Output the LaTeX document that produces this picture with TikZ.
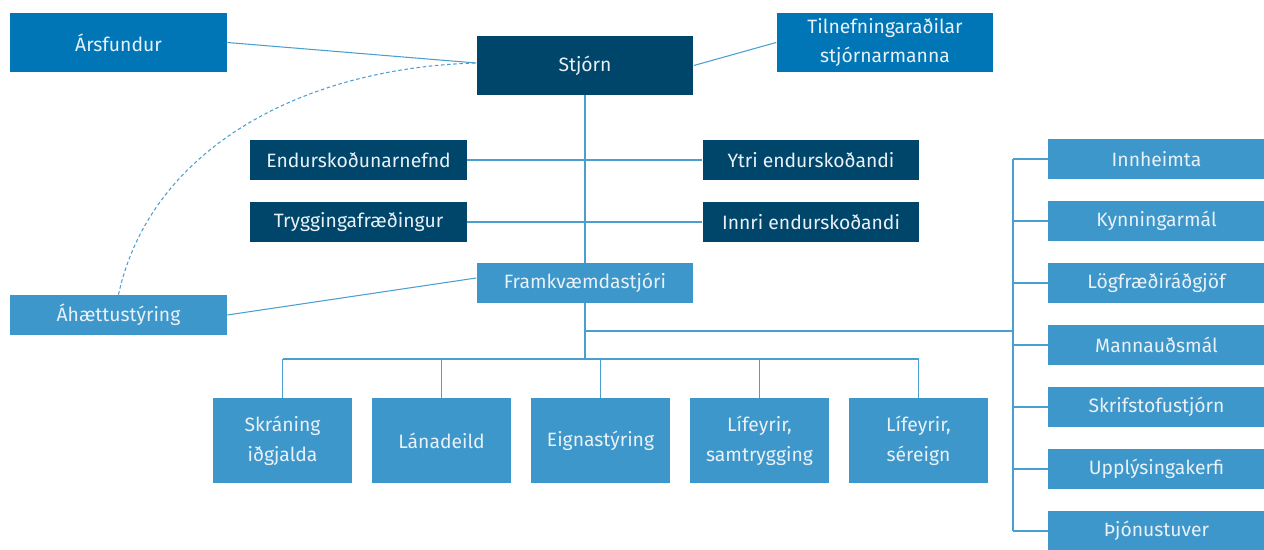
\documentclass[tikz,border=0pt]{standalone}
\usepackage{fontspec}
\setmainfont{Fira Sans}
\usetikzlibrary{positioning}

\definecolor{toppblue}{HTML}{0076B6}
\definecolor{navyblue}{HTML}{00456A}
\definecolor{lightblue}{HTML}{3D97CA}
\definecolor{linkblue}{HTML}{4A9FD0}
\definecolor{boxtext}{HTML}{E8F1F8}

\tikzset{
  unit/.style={rectangle, inner sep=2pt, text=boxtext, font=\fontsize{11}{17}\selectfont, align=center},
  wide/.style={unit, minimum width=4.34cm, minimum height=1.18cm},
  slim/.style={unit, minimum width=4.34cm, minimum height=0.8cm},
  dept/.style={unit, minimum width=2.78cm, minimum height=1.7cm},
  link/.style={draw=linkblue, line width=0.6pt}
}

\begin{document}
\begin{tikzpicture}[x=0.02cm, y=-0.02cm]
    \useasboundingbox (0,0) rectangle (1264,550);
    % top level
    \node[wide, fill=toppblue] (arsfundur) at (118.5, 42.5) {Ársfundur};
    \node[wide, fill=navyblue] (stjorn) at (585, 65.5) {Stjórn};
    \node[wide, fill=toppblue] (tilnefn) at (885, 42.5) {Tilnefningaraðilar\\stjórnarmanna};
    % board side units
    \node[slim, fill=navyblue] (endnefnd) at (358.5, 160) {Endurskoðunarnefnd};
    \node[slim, fill=navyblue] (ytri) at (811, 160) {Ytri endurskoðandi};
    \node[slim, fill=navyblue] (trygg) at (358.5, 222) {Tryggingafræðingur};
    \node[slim, fill=navyblue] (innri) at (811, 222) {Innri endurskoðandi};
    % management
    \node[slim, fill=lightblue] (framkv) at (585, 283) {Framkvæmdastjóri};
    \node[slim, fill=lightblue] (ahaetta) at (118.5, 315) {Áhættustýring};
    % departments
    \node[dept, fill=lightblue] (skraning) at (282.5, 440.5) {Skráning\\iðgjalda};
    \node[dept, fill=lightblue] (lana) at (441.5, 440.5) {Lánadeild};
    \node[dept, fill=lightblue] (eigna) at (600.5, 440.5) {Eignastýring};
    \node[dept, fill=lightblue] (samtr) at (759.5, 440.5) {Lífeyrir,\\samtrygging};
    \node[dept, fill=lightblue] (sereign) at (918.5, 440.5) {Lífeyrir,\\séreign};
    % support units
    \node[slim, fill=lightblue] (innh) at (1156.5, 159) {Innheimta};
    \node[slim, fill=lightblue] (kynn) at (1156.5, 221) {Kynningarmál};
    \node[slim, fill=lightblue] (logfr) at (1156.5, 283) {Lögfræðiráðgjöf};
    \node[slim, fill=lightblue] (mannaud) at (1156.5, 345) {Mannauðsmál};
    \node[slim, fill=lightblue] (skrifst) at (1156.5, 407) {Skrifstofustjórn};
    \node[slim, fill=lightblue] (upplys) at (1156.5, 469) {Upplýsingakerfi};
    \node[slim, fill=lightblue] (thjon) at (1156.5, 531) {Þjónustuver};

    \coordinate (bbus) at (585, 359);
    \coordinate (split) at (585, 331);
    \coordinate (rbus) at (1013, 331);

    \draw[link] (arsfundur.east) -- (stjorn.west |- 0,63);
    \draw[link] (tilnefn.west) -- (stjorn.east);
    \draw[link, dashed, dash pattern=on 2pt off 1.5pt] (ahaetta.north) .. controls (150,150) and (300,68) .. (stjorn.west |- 0,63);
    \draw[link] (stjorn) -- (framkv);
    \draw[link] (endnefnd) -- (ytri);
    \draw[link] (trygg) -- (innri);
    \draw[link] (ahaetta.east) -- (framkv.west |- 0,278);
    \draw[link] (framkv) -- (bbus);
    \draw[link] (split) -- (rbus);
    \draw[link] (skraning.north |- bbus) -- (sereign.north |- bbus);
    \foreach \d in {skraning, lana, eigna, samtr, sereign}
      \draw[link] (\d.north |- bbus) -- (\d.north);
    \draw[link] (rbus |- innh.west) -- (rbus |- thjon.west);
    \foreach \s in {innh, kynn, logfr, mannaud, skrifst, upplys, thjon}
      \draw[link] (rbus |- \s.west) -- (\s.west);
  \end{tikzpicture}
\end{document}
